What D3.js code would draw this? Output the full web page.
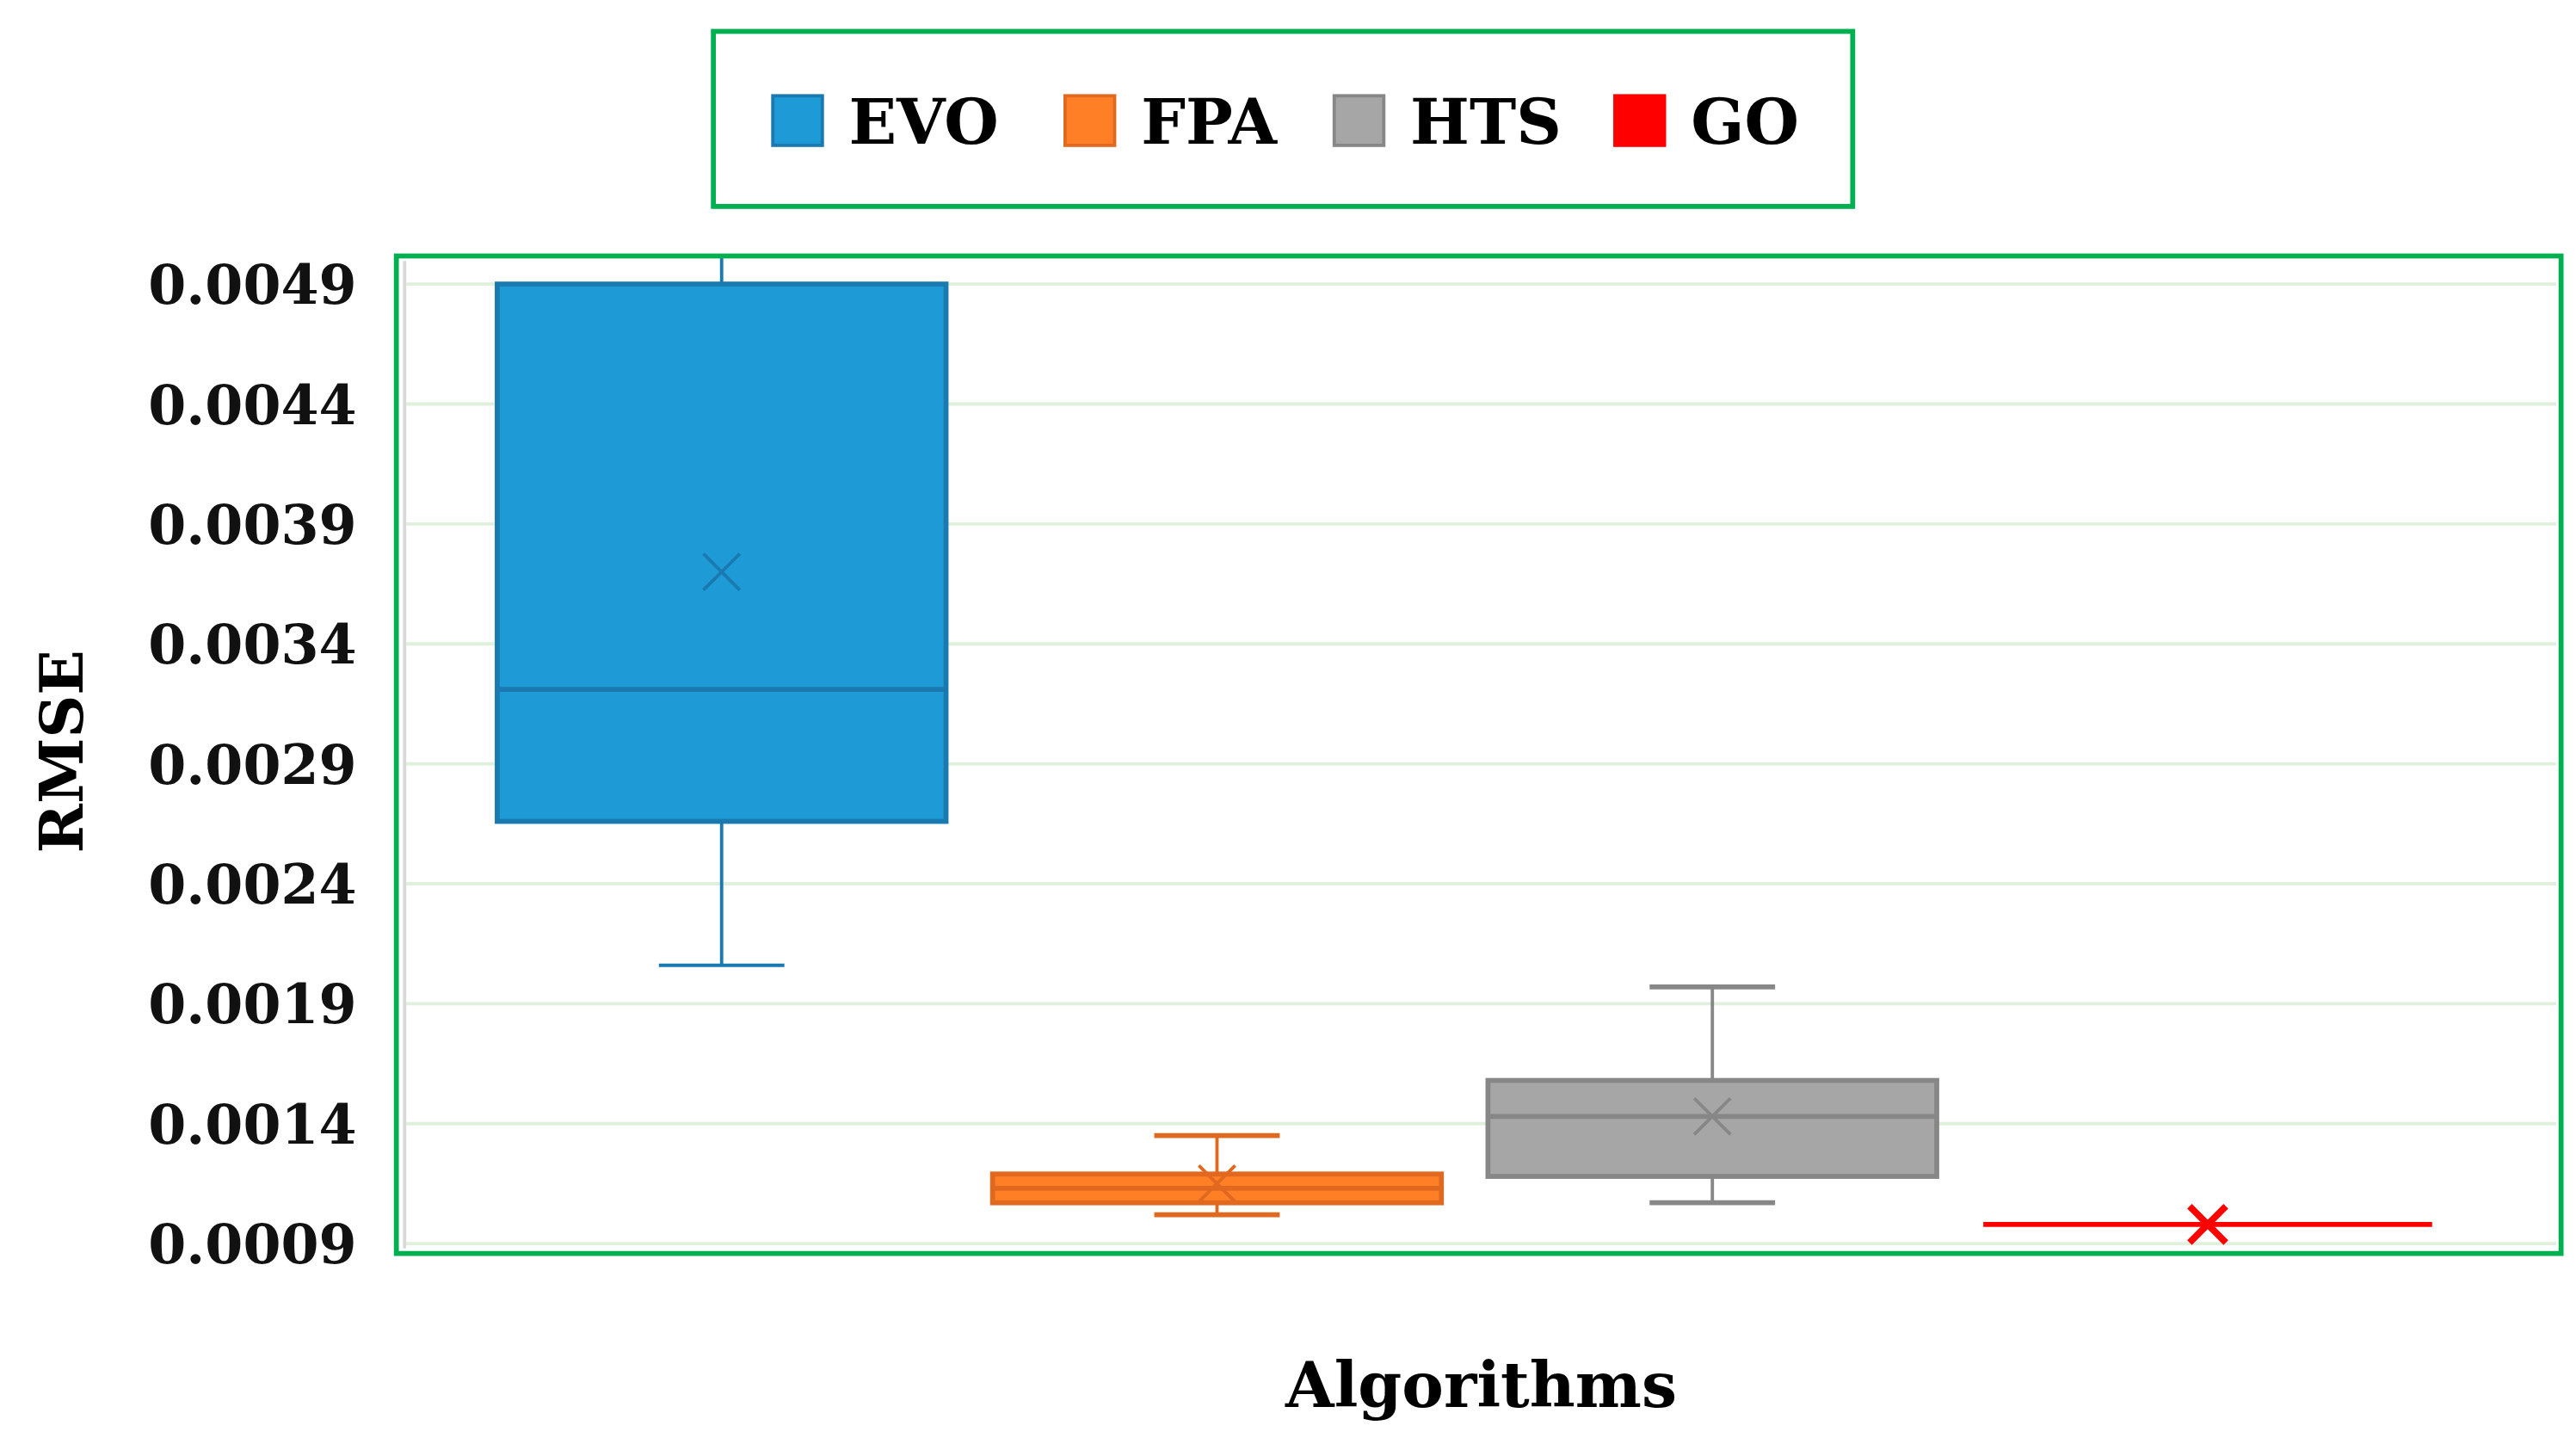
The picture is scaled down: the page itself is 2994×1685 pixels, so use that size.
<!DOCTYPE html>
<html><head><meta charset="utf-8">
<script src="https://cdn.jsdelivr.net/npm/d3@7"></script>
<style>body{margin:0;background:#fff}</style>
</head><body><div class="canvas"></div>
<script>
const algos = ['EVO', 'FPA', 'HTS', 'GO'];
const colours = ['#1e9bd7', '#ff7f27', '#a6a6a6', '#ff0000'];
const strokes = ['#1a7aaf', '#e0691f', '#878787', '#ff0000'];
const mins    = [0.00206, 0.00102, 0.00107, 0.00098];
const q1s     = [0.00266, 0.00107, 0.00118, 0.00098];
const medians = [0.00321, 0.00113, 0.00143, 0.00098];
const q3s     = [0.00490, 0.00119, 0.00158, 0.00098];
const maxs    = [0.00530, 0.00135, 0.00197, 0.00098];
const means   = [0.00370, 0.00115, 0.00143, 0.00098];
const ticks = [0.0009, 0.0014, 0.0019, 0.0024, 0.0029, 0.0034, 0.0039, 0.0044, 0.0049];

const svg = d3.select('.canvas').append('svg')
    .attr('width', 2994).attr('height', 1685)
    .attr('viewBox', '0 0 1560 878');

const font = '"DejaVu Serif", "Liberation Serif", serif';
const y = d3.scaleLinear().domain([0.0009, 0.0049]).range([753, 172]);
const x = d3.scaleBand().domain(algos).range([287, 1487]).paddingInner(0.094).paddingOuter(0.047);

svg.append('defs').append('clipPath').attr('id', 'clip')
  .append('rect').attr('x', 240).attr('y', 155).attr('width', 1311).attr('height', 604);

// grid
svg.append('g').selectAll('line').data(ticks).join('line')
    .attr('x1', 246).attr('x2', 1548)
    .attr('y1', d => y(d)).attr('y2', d => y(d))
    .attr('stroke', '#dff0dc').attr('stroke-width', 2);
svg.append('line').attr('x1', 245).attr('x2', 245).attr('y1', 158).attr('y2', 756)
    .attr('stroke', '#d9d9d9').attr('stroke-width', 2);

// y axis labels
const yAxis = svg.append('g').attr('transform', 'translate(232,0)')
    .call(d3.axisLeft(y).tickValues(ticks).tickFormat(d3.format('.4f')).tickSize(0).tickPadding(16));
yAxis.select('.domain').remove();
yAxis.selectAll('text').attr('font-family', font).attr('font-weight', 'bold')
    .attr('font-size', 33).attr('fill', '#111').attr('dy', '0.35em');

// boxes
const data = algos.map((a, i) => ({a, i}));
const g = svg.append('g').attr('clip-path', 'url(#clip)');
const boxes = g.selectAll('g.box').data(data).join('g').attr('class', 'box');
const cx = d => x(d.a) + x.bandwidth() / 2;

boxes.append('line').attr('x1', cx).attr('x2', cx)
    .attr('y1', d => y(maxs[d.i])).attr('y2', d => y(mins[d.i]))
    .attr('stroke', d => strokes[d.i]).attr('stroke-width', 2);
boxes.filter(d => d.i > 0 && d.i < 3).selectAll('line.cap')
    .data(d => [mins[d.i], maxs[d.i]].map(v => ({v, d}))).join('line')
    .attr('x1', e => cx(e.d) - 38).attr('x2', e => cx(e.d) + 38)
    .attr('y1', e => y(e.v)).attr('y2', e => y(e.v))
    .attr('stroke', e => strokes[e.d.i]).attr('stroke-width', 3);
boxes.filter(d => d.i === 0).append('line')
    .attr('x1', d => cx(d) - 38).attr('x2', d => cx(d) + 38)
    .attr('y1', d => y(mins[d.i])).attr('y2', d => y(mins[d.i]))
    .attr('stroke', d => strokes[d.i]).attr('stroke-width', 2);
boxes.append('rect')
    .attr('x', d => x(d.a)).attr('width', x.bandwidth())
    .attr('y', d => y(q3s[d.i])).attr('height', d => Math.max(0, y(q1s[d.i]) - y(q3s[d.i])))
    .attr('fill', d => colours[d.i]).attr('stroke', d => strokes[d.i]).attr('stroke-width', 3);
boxes.append('line').attr('x1', d => x(d.a)).attr('x2', d => x(d.a) + x.bandwidth())
    .attr('y1', d => y(medians[d.i])).attr('y2', d => y(medians[d.i]))
    .attr('stroke', d => strokes[d.i]).attr('stroke-width', 3);
boxes.append('path')
    .attr('d', d => { const X = cx(d), Y = y(means[d.i]), s = 11;
        return `M${X-s},${Y-s}L${X+s},${Y+s}M${X-s},${Y+s}L${X+s},${Y-s}`; })
    .attr('stroke', d => d.i === 3 ? '#ff0000' : strokes[d.i])
    .attr('stroke-width', d => d.i === 3 ? 4 : 2);

// plot frame
svg.append('rect').attr('x', 240).attr('y', 155).attr('width', 1311).attr('height', 604)
    .attr('fill', 'none').attr('stroke', '#00b050').attr('stroke-width', 3);

// axis titles
svg.append('text').attr('transform', 'translate(50,455) rotate(-90)').attr('text-anchor', 'middle')
    .attr('font-family', font).attr('font-weight', 'bold').attr('font-size', 36).text('RMSE');
svg.append('text').attr('x', 897).attr('y', 852).attr('text-anchor', 'middle')
    .attr('font-family', font).attr('font-weight', 'bold').attr('font-size', 38).text('Algorithms');

// legend
svg.append('rect').attr('x', 432).attr('y', 19).attr('width', 690).attr('height', 106)
    .attr('fill', 'none').attr('stroke', '#00b050').attr('stroke-width', 3);
const legX = [468, 645, 808, 978];
const leg = svg.append('g').selectAll('g').data(data).join('g')
    .attr('transform', d => `translate(${legX[d.i]},58)`);
leg.append('rect').attr('width', 30).attr('height', 30)
    .attr('fill', d => colours[d.i]).attr('stroke', d => strokes[d.i]).attr('stroke-width', 2);
leg.append('text').attr('x', 46).attr('y', 29)
    .attr('font-family', font).attr('font-weight', 'bold').attr('font-size', 38).text(d => d.a);
</script></body></html>
